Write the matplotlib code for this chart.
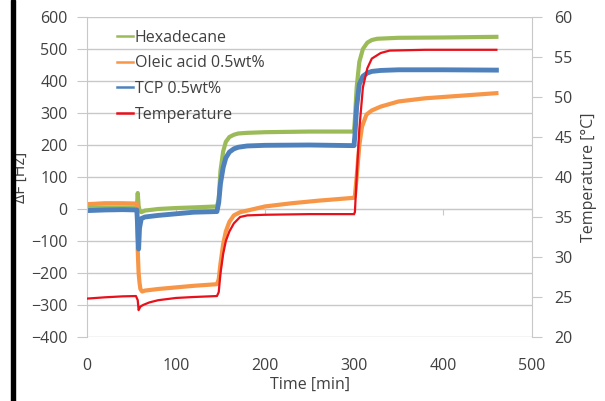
import matplotlib
matplotlib.use('Agg')
import matplotlib.pyplot as plt
from matplotlib.patches import Rectangle

# 数据
t_hex = [0, 56, 57, 58, 59, 61, 65, 80, 100, 120, 146, 148, 150, 153, 156, 160, 165, 170, 180, 200,
         250, 300, 301, 303, 306, 310, 315, 320, 326, 350, 400, 460]
hexadecane = [5, 5, 50, 10, -5, -10, -5, 0, 3, 5, 8, 30, 120, 180, 210, 225, 232, 236, 238, 240,
              242, 242, 280, 380, 460, 500, 520, 528, 532, 535, 536, 538]

t_ole = [0, 20, 40, 56, 57, 58, 59, 60, 62, 65, 80, 100, 120, 146, 148, 150, 153, 156, 160, 165,
         172, 180, 200, 230, 260, 300, 301, 303, 306, 309, 314, 320, 330, 350, 380, 410, 440, 460]
oleic = [15, 18, 18, 17, -130, -200, -230, -250, -258, -255, -250, -245, -240, -235, -220, -170, -110, -70, -40, -20,
         -10, -5, 8, 18, 26, 35, 40, 100, 200, 257, 295, 308, 320, 336, 346, 352, 358, 362]

t_tcp = [0, 20, 40, 56, 57, 58, 59, 61, 65, 80, 100, 120, 146, 148, 150, 153, 156, 160, 165, 170,
         180, 200, 250, 300, 301, 303, 306, 310, 315, 320, 330, 350, 400, 460]
tcp = [-5, -3, -2, -3, -60, -125, -60, -30, -25, -20, -15, -10, -8, 20, 80, 130, 160, 178, 188, 193,
       197, 199, 200, 198, 230, 320, 390, 415, 425, 430, 433, 435, 435, 434]

t_temp = [0, 20, 40, 55, 57, 58, 60, 63, 70, 80, 100, 120, 146, 148, 150, 153, 156, 160, 165, 172,
          180, 200, 250, 300, 301, 303, 306, 310, 315, 320, 330, 340, 380, 420, 460]
temperature = [24.8, 24.96, 25.08, 25.12, 24.6, 23.36, 23.8, 24.0, 24.32, 24.6, 24.88, 25.0, 25.12, 25.6, 28.0,
               30.4, 32.0, 33.2, 34.2, 35.0, 35.2, 35.28, 35.36, 35.36, 35.6, 40.0, 46.0, 51.2, 53.6, 54.8,
               55.5, 55.8, 55.9, 55.9, 55.9]

x_ticks = [0, 100, 200, 300, 400, 500]
y_ticks = [-400, -300, -200, -100, 0, 100, 200, 300, 400, 500, 600]
t_ticks = [20, 25, 30, 35, 40, 45, 50, 55, 60]

plt.rcParams['font.family'] = ['Open Sans', 'DejaVu Sans']
text_c = '#404040'
grid_c = '#c8c8c8'
fs = 11.5

fig = plt.figure(figsize=(6.05, 4.01), dpi=100)
ax = fig.add_axes([87 / 605, 64 / 401, 445 / 605, 320 / 401])

l1, = ax.plot(t_hex, hexadecane, color='#9BBB59', lw=3, label='Hexadecane')
l2, = ax.plot(t_ole, oleic, color='#F79646', lw=3, label='Oleic acid 0.5wt%')
l3, = ax.plot(t_tcp, tcp, color='#4F81BD', lw=3.5, label='TCP 0.5wt%')

ax.set_xlim(0, 500)
ax.set_ylim(-400, 600)
ax.set_xticks(x_ticks)
ax.set_yticks(y_ticks)
ax.yaxis.grid(True, color=grid_c, lw=1)
ax.set_axisbelow(True)
for s in ['top', 'bottom', 'right']:
    ax.spines[s].set_visible(False)
ax.spines['left'].set_color(grid_c)
ax.tick_params(axis='y', direction='out', length=7, color=grid_c, labelcolor=text_c, labelsize=fs, pad=7)
ax.tick_params(axis='x', length=0, labelcolor=text_c, labelsize=fs, pad=15)
ax.set_xlabel('Time [min]', fontsize=fs, color=text_c, labelpad=2)
ax.set_ylabel('\u2206F [Hz]', fontsize=fs, color=text_c)
ax.yaxis.set_label_coords(-0.13, 0.5)

# 横轴在 0 处的小刻度
sec = ax.secondary_xaxis(0.4)
sec.set_xticks(x_ticks)
sec.tick_params(direction='out', length=4, color=grid_c, labelbottom=False)
sec.spines['bottom'].set_color(grid_c)

ax2 = ax.twinx()
l4, = ax2.plot(t_temp, temperature, color='#E8101A', lw=1.6, label='Temperature')
ax2.set_ylim(20, 60)
ax2.set_yticks(t_ticks)
for s in ['top', 'bottom', 'left']:
    ax2.spines[s].set_visible(False)
ax2.spines['right'].set_color(grid_c)
ax2.tick_params(axis='y', direction='out', length=7, color=grid_c, labelcolor=text_c, labelsize=fs, pad=9)
ax2.set_ylabel('Temperature [\u00b0C]', fontsize=fs, color=text_c)
ax2.yaxis.set_label_coords(1.11, 0.5)

leg = ax.legend(handles=[l1, l2, l3, l4], loc='upper left', bbox_to_anchor=(0.046, 0.99),
                borderaxespad=0.2, frameon=False, fontsize=fs, handlelength=1.0,
                handletextpad=0.1, labelspacing=0.6)
for tx in leg.get_texts():
    tx.set_color(text_c)
for h in leg.legend_handles:
    h.set_linewidth(1.8)

# 左侧黑边
fig.add_artist(Rectangle((11 / 605, 0), 3.5 / 605, 1, transform=fig.transFigure,
                         color='black', zorder=10))

fig.savefig('out.png', dpi=100)
